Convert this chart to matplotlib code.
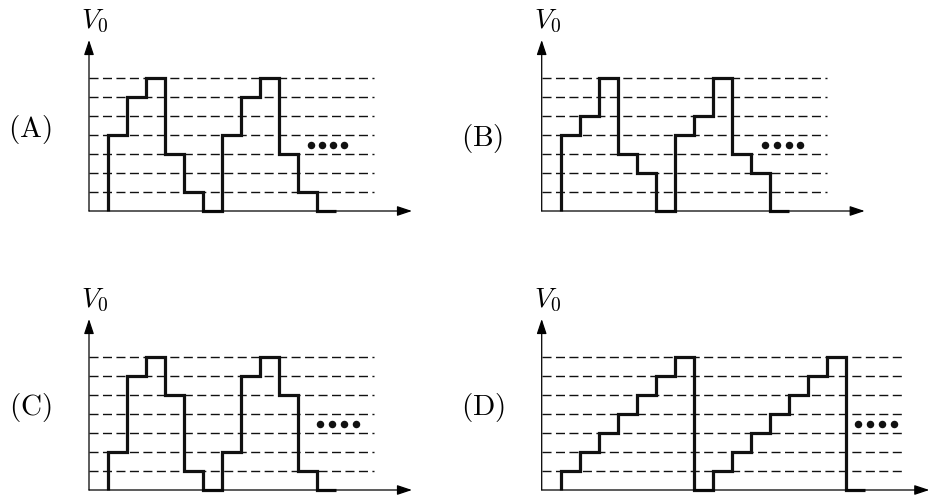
import numpy as np
import matplotlib.pyplot as plt

plt.rcParams['mathtext.fontset'] = 'cm'
plt.rcParams['font.family'] = 'serif'

# output level in each clock period, starting at t = 1
levels_a = [4, 6, 7, 3, 1, 0, 4, 6, 7, 3, 1, 0]
levels_b = [4, 5, 7, 3, 2, 0, 4, 5, 7, 3, 2, 0]
levels_c = [2, 6, 7, 5, 1, 0, 2, 6, 7, 5, 1, 0]
levels_d = [1, 2, 3, 4, 5, 6, 7, 0, 1, 2, 3, 4, 5, 6, 7, 0]

names = ['A', 'B', 'C', 'D']
grid_levels = [1, 2, 3, 4, 5, 6, 7]
v_max = 9

# the "...." continuation marks
dots_x = {
    'A': [11.7, 12.28, 12.86, 13.44],
    'B': [11.75, 12.38, 13.0, 13.62],
    'C': [12.15, 12.78, 13.4, 14.05],
    'D': [16.65, 17.3, 17.92, 18.56],
}
dots_y = 3.46

W, H = 932, 500
U = 19.0  # pixels per unit (time step and voltage step)

# origin of each panel in pixels (x from left, y from top)
origins = {'A': (89, 211), 'B': (541.7, 211), 'C': (89, 490), 'D': (541.7, 490)}
label_pos = {'A': (-3.1, 4.3), 'B': (-3.14, 3.84), 'C': (-3.1, 4.34), 'D': (-3.1, 4.34)}

fig = plt.figure(figsize=(W / 100, H / 100), dpi=100)
fig.patch.set_facecolor('white')

xmin, xmax, ymin, ymax = -0.5, 21.0, -1.0, 10.5


def panel(name, levels):
    ox, oy = origins[name]
    left = (ox + xmin * U) / W
    bottom = (H - (oy - ymin * U)) / H
    ax = fig.add_axes([left, bottom, (xmax - xmin) * U / W, (ymax - ymin) * U / H])
    ax.set_xlim(xmin, xmax)
    ax.set_ylim(ymin, ymax)
    ax.axis('off')

    n = len(levels)
    t_end = n + 1            # last edge of the waveform
    dash_end = n + 3
    x_arrow = n + 5 if n < 16 else n + 4.4

    ax.hlines(grid_levels, 0, dash_end, colors='#111111', lw=1.0,
              linestyles=(0, (6.5, 3.2)))

    arrow = dict(arrowstyle='-|>,head_length=0.6,head_width=0.2', lw=0.9,
                 color='black', mutation_scale=15, shrinkA=0, shrinkB=0)
    ax.annotate('', xy=(0, v_max), xytext=(0, 0), arrowprops=arrow)
    ax.annotate('', xy=(x_arrow, 0), xytext=(0, 0), arrowprops=arrow)

    edges = np.arange(1, t_end + 1)
    ax.stairs(levels, edges, baseline=0, color='#111111', lw=2.3,
              joinstyle='miter')

    ax.plot(dots_x[name], [dots_y] * len(dots_x[name]), 'o', color='#111111',
            ms=5.4, mew=0)

    ax.text(-0.42, 9.63, r'$V_0$', fontsize=20, ha='left', va='baseline')
    lx, ly = label_pos[name]
    ax.text(lx, ly, r'$\mathrm{(%s)}$' % name, fontsize=21,
            ha='center', va='center')


for nm, lv in zip(names, [levels_a, levels_b, levels_c, levels_d]):
    panel(nm, lv)

fig.savefig('out.png', dpi=100)
